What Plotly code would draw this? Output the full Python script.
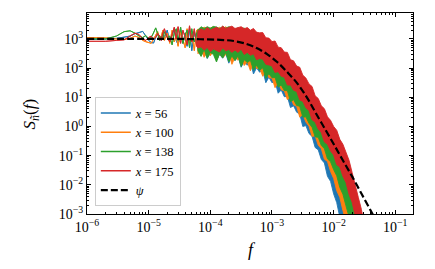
import numpy as np
import plotly.graph_objects as go

# ---------------- data ----------------
# low-frequency part: individual periodogram points (frequency, log10 S)
f_low = [1e-6, 2e-6, 3e-6, 4e-6, 5e-6, 6e-6, 7e-6, 8e-6, 9e-6, 1e-5, 1.1e-5, 1.2e-5,
         1.3e-5, 1.4e-5, 1.5e-5, 1.6e-5, 1.7e-5, 1.8e-5, 2e-5, 2.2e-5, 2.4e-5, 2.6e-5,
         2.8e-5, 3e-5, 3.3e-5, 3.6e-5, 3.9e-5, 4.2e-5, 4.6e-5, 5e-5, 5.5e-5, 6e-5]
log_low_56 = [2.98, 3.00, 3.02, 3.06, 3.10, 3.18, 3.22, 3.26, 3.10, 2.95, 2.88, 2.86, 3.05, 3.20, 3.10, 2.95,
              3.25, 3.05, 3.30, 2.90, 3.10, 3.35, 2.95, 2.80, 3.30, 2.85, 3.20, 2.75, 3.35, 2.60, 3.25, 2.85]
log_low_100 = [3.05, 3.04, 3.00, 2.98, 3.02, 3.10, 3.05, 2.95, 2.90, 2.88, 2.85, 3.00, 3.15, 3.25, 3.00, 3.10,
               3.30, 2.95, 3.20, 2.85, 3.30, 2.90, 3.15, 2.75, 3.25, 3.00, 2.70, 3.35, 2.85, 3.20, 2.60, 3.30]
log_low_138 = [3.01, 3.00, 3.10, 3.25, 3.28, 3.20, 3.10, 3.05, 3.12, 3.00, 3.05, 3.20, 3.38, 3.20, 2.95, 3.10,
               3.00, 3.25, 3.05, 3.10, 2.80, 3.20, 3.35, 2.95, 3.40, 2.85, 3.15, 3.30, 2.70, 3.35, 2.90, 3.20]
log_low_175 = [2.92, 2.92, 2.95, 2.97, 3.10, 3.20, 3.15, 3.00, 2.95, 3.05, 3.10, 2.98, 3.05, 3.18, 3.10, 2.95,
               3.20, 3.35, 3.05, 2.90, 3.15, 3.40, 3.00, 3.42, 2.85, 3.30, 3.05, 2.80, 3.45, 2.90, 3.35, 2.75]

# dense part: upper / lower envelope of each noisy band (log10 S)
f_band = [6.310e-5, 7.079e-5, 7.943e-5, 8.913e-5,
          1.000e-4, 1.122e-4, 1.259e-4, 1.413e-4, 1.585e-4, 1.778e-4, 1.995e-4, 2.239e-4, 2.512e-4, 2.818e-4,
          3.162e-4, 3.548e-4, 3.981e-4, 4.467e-4, 5.012e-4, 5.623e-4, 6.310e-4, 7.079e-4, 7.943e-4, 8.913e-4,
          1.000e-3, 1.122e-3, 1.259e-3, 1.413e-3, 1.585e-3, 1.778e-3, 1.995e-3, 2.239e-3, 2.512e-3, 2.818e-3,
          3.162e-3, 3.548e-3, 3.981e-3, 4.467e-3, 5.012e-3, 5.623e-3, 6.310e-3, 7.079e-3, 7.943e-3, 8.913e-3,
          1.000e-2, 1.122e-2, 1.259e-2, 1.413e-2, 1.585e-2, 1.778e-2, 1.995e-2, 2.239e-2, 2.512e-2, 2.818e-2,
          3.162e-2]

log_up_56 = [3.29, 3.37, 3.32, 3.40, 3.32, 3.37, 3.40, 3.31, 3.40, 3.31,
             3.35, 3.38, 3.28, 3.30, 3.33, 3.21, 3.23, 3.14, 3.17, 3.04,
             3.00, 2.99, 2.82, 2.79, 2.67, 2.65, 2.44, 2.39, 2.22, 2.17,
             1.93, 1.85, 1.67, 1.58, 1.32, 1.19, 0.97, 0.85, 0.54, 0.39,
             0.10, -0.08, -0.44, -0.70, -1.07, -1.41, -1.94, -2.37, -2.90, -3.36,
             -3.92, -4.41, -4.90, -5.40, -5.89]
log_lo_56 = [2.64, 2.44, 2.59, 2.33, 2.52, 2.59, 2.26, 2.47, 2.34, 2.51,
             2.17, 2.40, 2.26, 2.40, 2.03, 2.24, 2.10, 2.22, 1.80, 2.01,
             1.86, 1.93, 1.50, 1.69, 1.50, 1.55, 1.14, 1.25, 1.02, 1.03,
             0.65, 0.71, 0.49, 0.43, 0.00, 0.03, -0.24, -0.34, -0.72, -0.80,
             -1.13, -1.25, -1.71, -1.88, -2.31, -2.61, -3.20, -3.57, -4.12, -4.61,
             -5.12, -5.61, -6.10, -6.60, -7.09]

log_up_100 = [3.34, 3.29, 3.41, 3.33, 3.37, 3.42, 3.33, 3.40, 3.32, 3.42,
              3.33, 3.37, 3.31, 3.37, 3.24, 3.28, 3.29, 3.16, 3.16, 3.08,
              3.10, 2.96, 2.93, 2.79, 2.81, 2.65, 2.59, 2.42, 2.40, 2.22,
              2.07, 2.01, 1.79, 1.70, 1.51, 1.42, 1.15, 1.02, 0.80, 0.66,
              0.37, 0.22, -0.06, -0.26, -0.62, -0.89, -1.27, -1.61, -2.08, -2.50,
              -3.00, -3.49, -4.00, -4.50, -4.99]
log_lo_100 = [2.49, 2.64, 2.37, 2.57, 2.42, 2.59, 2.27, 2.51, 2.36, 2.46,
              2.53, 2.13, 2.37, 2.27, 2.38, 2.09, 2.22, 1.91, 2.18, 1.99,
              2.00, 1.72, 1.91, 1.67, 1.66, 1.33, 1.52, 1.26, 1.22, 0.92,
              1.01, 0.74, 0.69, 0.32, 0.41, 0.15, 0.01, -0.34, -0.32, -0.64,
              -0.76, -1.12, -1.20, -1.54, -1.78, -2.20, -2.43, -2.88, -3.28, -3.76,
              -4.20, -4.69, -5.20, -5.70, -6.19]

log_up_138 = [3.31, 3.42, 3.36, 3.42, 3.37, 3.43, 3.41, 3.35, 3.43, 3.37,
              3.42, 3.40, 3.33, 3.38, 3.33, 3.38, 3.24, 3.27, 3.20, 3.23,
              3.06, 3.07, 2.97, 2.97, 2.79, 2.77, 2.65, 2.61, 2.40, 2.35,
              2.19, 2.12, 1.92, 1.82, 1.63, 1.54, 1.29, 1.18, 0.96, 0.84,
              0.58, 0.45, 0.20, 0.01, -0.24, -0.47, -0.81, -1.10, -1.48, -1.85,
              -2.34, -2.81, -3.30, -3.80, -4.29]
log_lo_138 = [2.59, 2.40, 2.64, 2.34, 2.54, 2.47, 2.21, 2.50, 2.35, 2.53,
              2.22, 2.42, 2.26, 2.42, 2.06, 2.29, 2.19, 2.27, 1.93, 2.10,
              1.93, 2.01, 1.65, 1.81, 1.67, 1.68, 1.35, 1.42, 1.23, 1.23,
              0.85, 0.92, 0.72, 0.69, 0.32, 0.33, 0.11, -0.03, -0.36, -0.37,
              -0.65, -0.76, -1.11, -1.21, -1.48, -1.69, -2.09, -2.32, -2.72, -3.10,
              -3.54, -4.01, -4.50, -5.00, -5.49]

log_up_175 = [3.27, 3.35, 3.29, 3.39, 3.31, 3.36, 3.40, 3.34, 3.44, 3.36,
              3.40, 3.44, 3.36, 3.40, 3.42, 3.35, 3.39, 3.30, 3.36, 3.23,
              3.21, 3.22, 3.04, 3.03, 2.91, 2.93, 2.72, 2.70, 2.55, 2.54,
              2.29, 2.25, 2.07, 2.03, 1.76, 1.66, 1.46, 1.37, 1.05, 0.96,
              0.71, 0.61, 0.33, 0.21, 0.00, -0.13, -0.44, -0.61, -0.92, -1.16,
              -1.58, -1.96, -2.43, -2.84, -3.39]
log_lo_175 = [2.69, 2.73, 2.61, 2.71, 2.56, 2.66, 2.62, 2.55, 2.69, 2.59,
              2.64, 2.54, 2.62, 2.54, 2.65, 2.47, 2.54, 2.44, 2.49, 2.29,
              2.33, 2.31, 2.13, 2.11, 2.07, 1.85, 1.88, 1.72, 1.69, 1.42,
              1.42, 1.24, 1.20, 0.91, 0.86, 0.64, 0.55, 0.23, 0.15, -0.09,
              -0.21, -0.53, -0.61, -0.84, -0.98, -1.31, -1.39, -1.71, -1.92, -2.33,
              -2.60, -3.09, -3.50, -4.00, -4.49]

# model curve psi
f_psi = [1e-6, 3.16e-5, 6.92e-5, 1.445e-4, 2.40e-4, 3.98e-4, 5.75e-4, 8.32e-4, 1.20e-3, 1.74e-3,
         2.57e-3, 3.72e-3, 5.01e-3, 7.08e-3, 1.0e-2, 1.41e-2, 2.0e-2, 2.82e-2, 3.98e-2, 5.01e-2]
S_psi = [1000, 1000, 977, 933, 851, 661, 479, 302, 166, 75.9,
         30.2, 9.55, 3.16, 0.891, 0.251, 0.0692, 0.0191, 0.00501, 0.00132, 0.000525]

labels = ["<i>x</i> = 56", "<i>x</i> = 100", "<i>x</i> = 138", "<i>x</i> = 175"]
colors = ["#1f77b4", "#ff7f0e", "#2ca02c", "#d62728"]
x_ticks = [1e-6, 1e-5, 1e-4, 1e-3, 1e-2, 1e-1]
x_ticktext = ["10<sup>−6</sup>", "10<sup>−5</sup>", "10<sup>−4</sup>", "10<sup>−3</sup>",
              "10<sup>−2</sup>", "10<sup>−1</sup>"]
y_ticks = [1e-3, 1e-2, 1e-1, 1e0, 1e1, 1e2, 1e3]
y_ticktext = ["10<sup>−3</sup>", "10<sup>−2</sup>", "10<sup>−1</sup>", "10<sup>0</sup>",
              "10<sup>1</sup>", "10<sup>2</sup>", "10<sup>3</sup>"]

series = [
    (log_low_56, log_up_56, log_lo_56),
    (log_low_100, log_up_100, log_lo_100),
    (log_low_138, log_up_138, log_lo_138),
    (log_low_175, log_up_175, log_lo_175),
]

FONT = "Liberation Serif"
fig = go.Figure()

for (low, up, lo), col in zip(series, colors):
    xs = f_low + f_band + f_band[::-1] + f_low[::-1]
    ys = 10 ** np.array(low + up + lo[::-1] + low[::-1])
    fig.add_trace(go.Scatter(x=xs, y=ys, mode="lines", fill="toself", fillcolor=col,
                             line=dict(color=col, width=0.9), showlegend=False,
                             hoverinfo="skip"))

for col, lab in zip(colors, labels):
    fig.add_trace(go.Scatter(x=[None], y=[None], mode="lines", name=lab,
                             line=dict(color=col, width=1.5)))

fig.add_trace(go.Scatter(x=f_psi, y=S_psi, mode="lines", name="<i>ψ</i>",
                         line=dict(color="black", width=2.2, dash="7px,3px", shape="spline")))

x_minor = [m * 10.0 ** d for d in range(-6, 0) for m in range(2, 10)]
y_minor = [m * 10.0 ** d for d in range(-3, 4) for m in range(2, 10)]

axis_common = dict(type="log", showline=True, linecolor="black", linewidth=1, mirror="allticks",
                   ticks="inside", ticklen=4, tickwidth=1, tickcolor="black", showgrid=False,
                   zeroline=False, automargin=False,
                   tickfont=dict(family=FONT, size=14, color="black"))

fig.update_xaxes(range=[-6, -0.713], tickvals=x_ticks, ticktext=x_ticktext,
                 minor=dict(ticks="inside", ticklen=2, tickcolor="black", tickvals=x_minor, showgrid=False),
                 **axis_common)
fig.update_yaxes(range=[-3, 3.89], tickvals=y_ticks, ticktext=y_ticktext,
                 minor=dict(ticks="inside", ticklen=2, tickcolor="black", tickvals=y_minor, showgrid=False),
                 **axis_common)

fig.update_layout(
    width=435, height=269,
    margin=dict(l=87, r=22, t=13, b=55),
    paper_bgcolor="white", plot_bgcolor="white",
    font=dict(family=FONT, size=13, color="black"),
    legend=dict(x=0.024, y=0.58, xanchor="left", yanchor="top",
                bgcolor="rgba(255,255,255,0.8)", bordercolor="#cccccc", borderwidth=1,
                font=dict(family=FONT, size=12.5, color="black"), tracegroupgap=0),
    annotations=[
        dict(text="<i>f</i>", xref="paper", yref="paper", x=0.505, y=-0.179,
             xanchor="center", yanchor="middle", showarrow=False,
             font=dict(family=FONT, size=18, color="black")),
        dict(text="<i>S</i><sub><i>ñ</i></sub>(<i>f</i>)", xref="paper", yref="paper",
             x=-0.172, y=0.5, xanchor="center", yanchor="middle", textangle=-90,
             showarrow=False, font=dict(family=FONT, size=17, color="black")),
    ],
)

# remove the default 8px page margin so the figure fills the 435x269 window exactly
fig.write_html("out.html", config={"displayModeBar": False},
               post_script="document.body.style.margin = '0px';")
